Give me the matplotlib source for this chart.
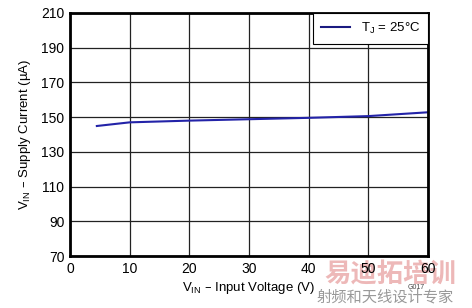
import matplotlib.pyplot as plt

# data
vin = [4.5, 10, 20, 30, 40, 50, 60]
iq = [144.9, 147.0, 148.0, 148.8, 149.6, 150.6, 152.8]

xticks = [0, 10, 20, 30, 40, 50, 60]
yticks = [70, 90, 110, 130, 150, 170, 190, 210]

plt.rcParams['font.family'] = ['Liberation Sans', 'DejaVu Sans']

fig = plt.figure(figsize=(4.72, 3.08), dpi=100)
ax = fig.add_axes([70 / 472, 1 - 256 / 308, 358 / 472, 243 / 308])

ax.plot(vin, iq, color='#2323a8', lw=1.5, label=r'T$_\mathregular{J}$ = 25°C')

ax.set_xlim(0, 60)
ax.set_ylim(70, 210)
ax.set_xticks(xticks)
ax.set_yticks(yticks)
ax.tick_params(length=0, labelsize=10, pad=4)
ax.grid(True, color='#222222', lw=0.9)
for s in ax.spines.values():
    s.set_linewidth(2)
    s.set_color('black')

ax.set_xlabel(r'V$_\mathregular{IN}$ – Input Voltage (V)', fontsize=9.5, labelpad=3)
ax.set_ylabel(r'V$_\mathregular{IN}$ – Supply Current (µA)', fontsize=9.5, labelpad=6)

leg = ax.legend(loc='upper right', fontsize=9.5, fancybox=False, framealpha=1,
                edgecolor='black', borderaxespad=0, handlelength=2.2, borderpad=0.6)
leg.get_frame().set_linewidth(0.8)
leg.get_lines()[0].set_color('#1a1a80')

# watermark / figure id, kept behind the tick labels
fig.text(416 / 472, 1 - 289 / 308, 'G017', fontsize=5, color='#444444', ha='center', zorder=-1)
fig.text(390 / 472, 1 - 275 / 308, '易迪拓培训', fontsize=19, color='#e8a0a0', alpha=0.75,
         ha='center', va='center', family=['Noto Sans CJK SC', 'DejaVu Sans'], weight='bold',
         zorder=-1)
fig.text(385 / 472, 1 - 297 / 308, '射频和天线设计专家', fontsize=11, color='#999999',
         ha='center', va='center', family=['Noto Sans CJK SC', 'DejaVu Sans'], zorder=-1)

fig.savefig('out.png', dpi=100)
